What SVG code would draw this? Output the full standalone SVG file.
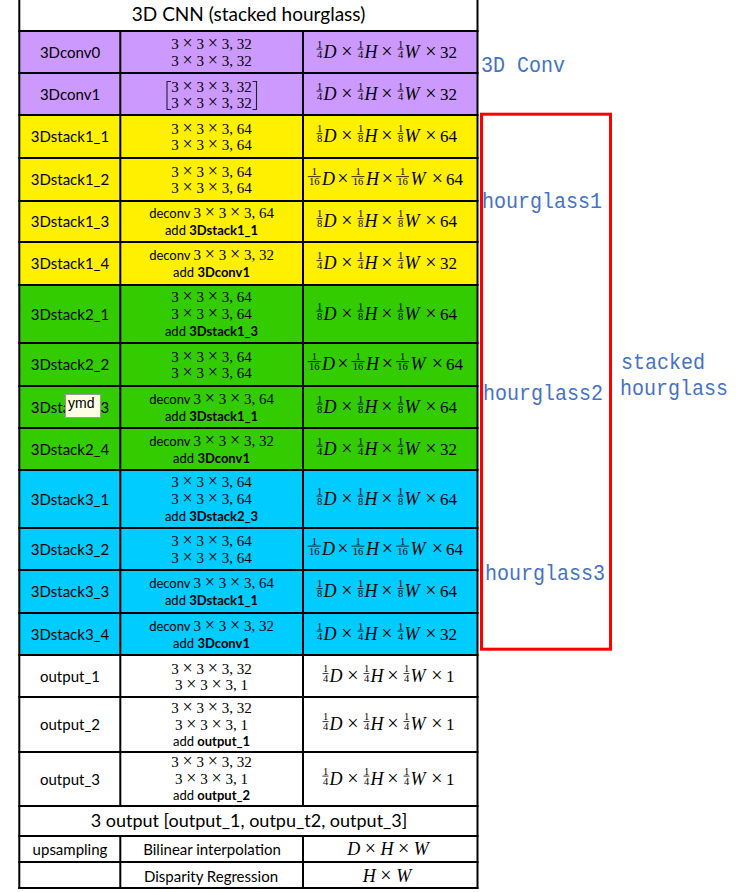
<svg xmlns="http://www.w3.org/2000/svg" width="752" height="892" viewBox="0 0 752 892">
<style>
text{fill:#000}
.lbl{font-family:Lato,"Liberation Sans",sans-serif;font-size:15px;text-anchor:middle}
.ttl{font-family:Lato,"Liberation Sans",sans-serif;font-size:19px;text-anchor:middle}
.m{font-family:"Liberation Serif",serif;font-size:15px;text-anchor:middle}
.xm{font-size:18px}
.s13{font-family:Lato,"Liberation Sans",sans-serif;font-size:13px}
.add{font-family:Lato,"Liberation Sans",sans-serif;font-size:13px;text-anchor:middle}
.b{font-weight:bold}
.it{font-family:"Liberation Serif",serif;font-style:italic;font-size:18px}
.itc{font-family:"Liberation Serif",serif;font-style:italic;font-size:18px;text-anchor:middle}
.x{font-family:"Liberation Serif",serif;font-size:20px;text-anchor:middle}
.xi{font-family:"Liberation Serif",serif;font-size:20px;font-style:normal}
.n{font-family:"Liberation Serif",serif;font-size:17px}
.fr{font-family:"Liberation Serif",serif;font-size:10.5px;text-anchor:middle}
.fb{stroke:#000;stroke-width:0.8}
.bl{fill:#4472C4;font-family:"Liberation Mono",monospace;font-size:22px}
.grid line{stroke:#000;stroke-width:2}
.pur{fill:#CC99FF}
.yel{fill:#FFF000}
.grn{fill:#33CC00}
.cyn{fill:#00CCFF}
</style>
<defs>
<g id="f4"><text class="fr" y="-9.6">1</text><line class="fb" x1="-3" x2="3" y1="-8.4" y2="-8.4"/><text class="fr" y="0">4</text></g>
<g id="f8"><text class="fr" y="-9.6">1</text><line class="fb" x1="-3" x2="3" y1="-8.4" y2="-8.4"/><text class="fr" y="0">8</text></g>
<g id="f16"><text class="fr" y="-9.6">1</text><line class="fb" x1="-6.5" x2="6.5" y1="-8.4" y2="-8.4"/><text class="fr" y="0">16</text></g>
<g id="qDHW"><use href="#f4" x="3.5"/><text class="it" x="7.5">D</text><text class="x" x="31">×</text><use href="#f4" x="44.5"/><text class="it" x="48.5">H</text><text class="x" x="71">×</text><use href="#f4" x="84.5"/><text class="it" x="88.5">W</text><text class="x" x="115">×</text></g>
<g id="eDHW"><use href="#f8" x="3.5"/><text class="it" x="7.5">D</text><text class="x" x="31">×</text><use href="#f8" x="44.5"/><text class="it" x="48.5">H</text><text class="x" x="71">×</text><use href="#f8" x="84.5"/><text class="it" x="88.5">W</text><text class="x" x="115">×</text></g>
<g id="q32"><use href="#qDHW"/><text class="n" x="124">32</text></g>
<g id="q1"><use href="#qDHW"/><text class="n" x="124">1</text></g>
<g id="e64"><use href="#eDHW"/><text class="n" x="124">64</text></g>
<g id="s64"><use href="#f16" x="7.3"/><text class="it" x="15">D</text><text class="x" x="36">×</text><use href="#f16" x="51"/><text class="it" x="59">H</text><text class="x" x="80.5">×</text><use href="#f16" x="95.5"/><text class="it" x="103.5">W</text><text class="x" x="130.5">×</text><text class="n" x="139">64</text></g>
<text id="k32" class="m">3 <tspan class="xm">×</tspan> 3 <tspan class="xm">×</tspan> 3, 32</text>
<text id="k64" class="m">3 <tspan class="xm">×</tspan> 3 <tspan class="xm">×</tspan> 3, 64</text>
<text id="k1" class="m">3 <tspan class="xm">×</tspan> 3 <tspan class="xm">×</tspan> 3, 1</text>
<text id="d64" class="m"><tspan class="s13">deconv </tspan>3 <tspan class="xm">×</tspan> 3 <tspan class="xm">×</tspan> 3, 64</text>
<text id="d32" class="m"><tspan class="s13">deconv </tspan>3 <tspan class="xm">×</tspan> 3 <tspan class="xm">×</tspan> 3, 32</text>
</defs>
<rect width="752" height="892" fill="#fff"/>

<g id="title"><text class="ttl" x="248.5" y="21">3D CNN (stacked hourglass)</text></g>

<g id="row-3Dconv0"><rect class="pur" x="19" y="31" width="459" height="42"/>
<text class="lbl" x="70" y="57.5">3Dconv0</text>
<use href="#k32" x="211.5" y="49"/><use href="#k32" x="211.5" y="65.5"/>
<use href="#q32" transform="translate(316,57.5)"/></g>

<g id="row-3Dconv1"><rect class="pur" x="19" y="73" width="459" height="42"/>
<text class="lbl" x="70" y="99.5">3Dconv1</text>
<use href="#k32" x="211.5" y="91.7"/><use href="#k32" x="211.5" y="108.3"/>
<path d="M171 81.5H167V109.5H171M252.5 81.5H256.5V109.5H252.5" fill="none" stroke="#222" stroke-width="1.1"/>
<use href="#q32" transform="translate(316,99.5)"/></g>

<g id="row-3Dstack1_1"><rect class="yel" x="19" y="115" width="459" height="43"/>
<text class="lbl" x="70" y="142">3Dstack1_1</text>
<use href="#k64" x="211.5" y="133.5"/><use href="#k64" x="211.5" y="150"/>
<use href="#e64" transform="translate(316,142)"/></g>

<g id="row-3Dstack1_2"><rect class="yel" x="19" y="158" width="459" height="43"/>
<text class="lbl" x="70" y="185">3Dstack1_2</text>
<use href="#k64" x="211.5" y="176.5"/><use href="#k64" x="211.5" y="193"/>
<use href="#s64" transform="translate(307,185)"/></g>

<g id="row-3Dstack1_3"><rect class="yel" x="19" y="201" width="459" height="41"/>
<text class="lbl" x="70" y="227">3Dstack1_3</text>
<use href="#d64" x="211.5" y="218.2"/>
<text class="add" x="211.5" y="235"><tspan>add </tspan><tspan class="b">3Dstack1_1</tspan></text>
<use href="#e64" transform="translate(316,227)"/></g>

<g id="row-3Dstack1_4"><rect class="yel" x="19" y="242" width="459" height="43"/>
<text class="lbl" x="70" y="269">3Dstack1_4</text>
<use href="#d32" x="211.5" y="260.2"/>
<text class="add" x="211.5" y="277"><tspan>add </tspan><tspan class="b">3Dconv1</tspan></text>
<use href="#q32" transform="translate(316,269)"/></g>

<g id="row-3Dstack2_1"><rect class="grn" x="19" y="285" width="459" height="58"/>
<text class="lbl" x="70" y="319.5">3Dstack2_1</text>
<use href="#k64" x="211.5" y="302.3"/><use href="#k64" x="211.5" y="319"/>
<text class="add" x="211.5" y="335.5"><tspan>add </tspan><tspan class="b">3Dstack1_3</tspan></text>
<use href="#e64" transform="translate(316,319.5)"/></g>

<g id="row-3Dstack2_2"><rect class="grn" x="19" y="343" width="459" height="43"/>
<text class="lbl" x="70" y="370">3Dstack2_2</text>
<use href="#k64" x="211.5" y="361.5"/><use href="#k64" x="211.5" y="378"/>
<use href="#s64" transform="translate(307,370)"/></g>

<g id="row-3Dstack2_3"><rect class="grn" x="19" y="386" width="459" height="42"/>
<text class="lbl" x="70" y="412.5">3Dstack2_3</text>
<use href="#d64" x="211.5" y="403.7"/>
<text class="add" x="211.5" y="420.5"><tspan>add </tspan><tspan class="b">3Dstack1_1</tspan></text>
<use href="#e64" transform="translate(316,412.5)"/></g>

<g id="row-3Dstack2_4"><rect class="grn" x="19" y="428" width="459" height="42"/>
<text class="lbl" x="70" y="454.5">3Dstack2_4</text>
<use href="#d32" x="211.5" y="445.7"/>
<text class="add" x="211.5" y="462.5"><tspan>add </tspan><tspan class="b">3Dconv1</tspan></text>
<use href="#q32" transform="translate(316,454.5)"/></g>

<g id="row-3Dstack3_1"><rect class="cyn" x="19" y="470" width="459" height="58"/>
<text class="lbl" x="70" y="504.5">3Dstack3_1</text>
<use href="#k64" x="211.5" y="487.3"/><use href="#k64" x="211.5" y="504"/>
<text class="add" x="211.5" y="520.5"><tspan>add </tspan><tspan class="b">3Dstack2_3</tspan></text>
<use href="#e64" transform="translate(316,504.5)"/></g>

<g id="row-3Dstack3_2"><rect class="cyn" x="19" y="528" width="459" height="42"/>
<text class="lbl" x="70" y="554.5">3Dstack3_2</text>
<use href="#k64" x="211.5" y="546"/><use href="#k64" x="211.5" y="562.5"/>
<use href="#s64" transform="translate(307,554.5)"/></g>

<g id="row-3Dstack3_3"><rect class="cyn" x="19" y="570" width="459" height="43"/>
<text class="lbl" x="70" y="597">3Dstack3_3</text>
<use href="#d64" x="211.5" y="588.2"/>
<text class="add" x="211.5" y="605"><tspan>add </tspan><tspan class="b">3Dstack1_1</tspan></text>
<use href="#e64" transform="translate(316,597)"/></g>

<g id="row-3Dstack3_4"><rect class="cyn" x="19" y="613" width="459" height="42"/>
<text class="lbl" x="70" y="639.5">3Dstack3_4</text>
<use href="#d32" x="211.5" y="630.7"/>
<text class="add" x="211.5" y="647.5"><tspan>add </tspan><tspan class="b">3Dconv1</tspan></text>
<use href="#q32" transform="translate(316,639.5)"/></g>

<g id="row-output_1">
<text class="lbl" x="70" y="681.5">output_1</text>
<use href="#k32" x="211.5" y="674"/><use href="#k1" x="211.5" y="690.3"/>
<use href="#q1" transform="translate(322,682)"/></g>

<g id="row-output_2">
<text class="lbl" x="70" y="730">output_2</text>
<use href="#k32" x="211.5" y="712.7"/><use href="#k1" x="211.5" y="730"/>
<text class="add" x="211.5" y="745.5"><tspan>add </tspan><tspan class="b">output_1</tspan></text>
<use href="#q1" transform="translate(322,730)"/></g>

<g id="row-output_3">
<text class="lbl" x="70" y="784.5">output_3</text>
<use href="#k32" x="211.5" y="767"/><use href="#k1" x="211.5" y="784"/>
<text class="add" x="211.5" y="800"><tspan>add </tspan><tspan class="b">output_2</tspan></text>
<use href="#q1" transform="translate(322,784.5)"/></g>

<g id="row-summary"><text class="ttl" x="249" y="827" style="font-size:18px">3 output [output_1, outpu_t2, output_3]</text></g>

<g id="row-upsampling">
<text class="lbl" x="70" y="855">upsampling</text>
<text class="lbl" x="212" y="855">Bilinear interpolation</text>
<text class="itc" x="388" y="855">D <tspan class="xi">×</tspan> H <tspan class="xi">×</tspan> W</text></g>

<g id="row-regression">
<text class="lbl" x="211" y="881.5">Disparity Regression</text>
<text class="itc" x="387" y="881.5">H <tspan class="xi">×</tspan> W</text></g>

<g id="grid" class="grid">
<line x1="19.3" y1="0" x2="19.3" y2="889"/>
<line x1="477.5" y1="0" x2="477.5" y2="889"/>
<line x1="120.3" y1="31" x2="120.3" y2="806"/>
<line x1="303" y1="31" x2="303" y2="806"/>
<line x1="120.3" y1="836" x2="120.3" y2="889"/>
<line x1="303" y1="836" x2="303" y2="889"/>
<line x1="18.3" y1="31" x2="478.5" y2="31"/>
<line x1="18.3" y1="73" x2="478.5" y2="73"/>
<line x1="18.3" y1="115" x2="478.5" y2="115"/>
<line x1="18.3" y1="158" x2="478.5" y2="158"/>
<line x1="18.3" y1="201" x2="478.5" y2="201"/>
<line x1="18.3" y1="242" x2="478.5" y2="242"/>
<line x1="18.3" y1="285" x2="478.5" y2="285"/>
<line x1="18.3" y1="343" x2="478.5" y2="343"/>
<line x1="18.3" y1="386" x2="478.5" y2="386"/>
<line x1="18.3" y1="428" x2="478.5" y2="428"/>
<line x1="18.3" y1="470" x2="478.5" y2="470"/>
<line x1="18.3" y1="528" x2="478.5" y2="528"/>
<line x1="18.3" y1="570" x2="478.5" y2="570"/>
<line x1="18.3" y1="613" x2="478.5" y2="613"/>
<line x1="18.3" y1="655" x2="478.5" y2="655"/>
<line x1="18.3" y1="697" x2="478.5" y2="697"/>
<line x1="18.3" y1="752" x2="478.5" y2="752"/>
<line x1="18.3" y1="806" x2="478.5" y2="806"/>
<line x1="18.3" y1="836" x2="478.5" y2="836"/>
<line x1="18.3" y1="862" x2="478.5" y2="862"/>
<line x1="18.3" y1="888" x2="478.5" y2="888"/>
</g>

<g id="tooltip">
<rect x="65.5" y="394.5" width="35" height="23" fill="#FDFDE3" stroke="#9a9a9a" stroke-width="1"/>
<text x="68" y="408" style="font-family:'Liberation Sans',sans-serif;font-size:14px">ymd</text>
</g>

<g id="annotations">
<rect x="481.5" y="114.2" width="129" height="535" fill="none" stroke="#FF0000" stroke-width="3"/>
<text class="bl" x="481" y="72" textLength="84" lengthAdjust="spacingAndGlyphs">3D Conv</text>
<text class="bl" x="482" y="208" textLength="120" lengthAdjust="spacingAndGlyphs">hourglass1</text>
<text class="bl" x="483" y="400" textLength="120" lengthAdjust="spacingAndGlyphs">hourglass2</text>
<text class="bl" x="485" y="580" textLength="120" lengthAdjust="spacingAndGlyphs">hourglass3</text>
<text class="bl" x="621" y="369" textLength="84" lengthAdjust="spacingAndGlyphs">stacked</text>
<text class="bl" x="620" y="395" textLength="108" lengthAdjust="spacingAndGlyphs">hourglass</text>
</g>
</svg>
